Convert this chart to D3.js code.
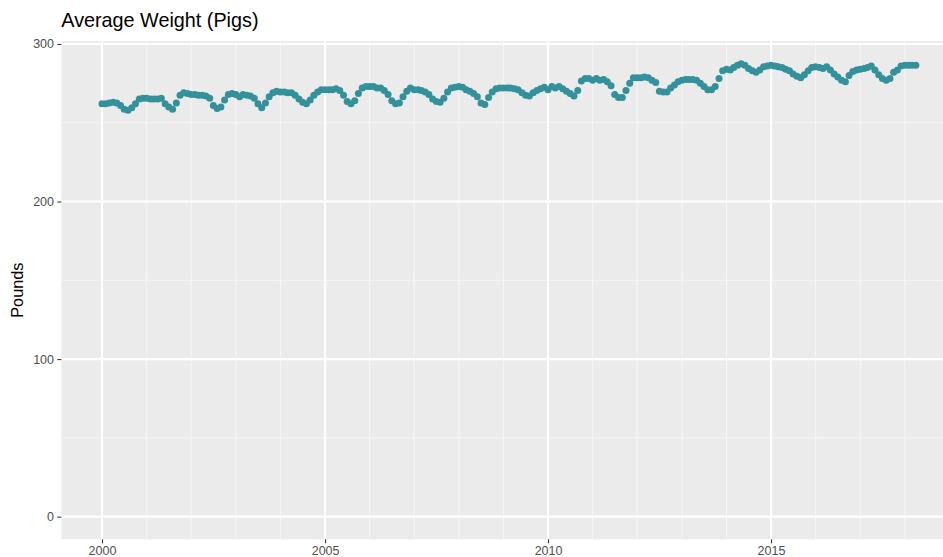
<!DOCTYPE html>
<html>
<head>
<meta charset="utf-8">
<script src="https://cdn.jsdelivr.net/npm/d3@7"></script>
<style>
  body { margin: 0; background: #fff; }
  svg { display: block; font-family: "Liberation Sans", Arial, sans-serif; }
</style>
</head>
<body>
<div id="chart"></div>
<script>
// monthly average live weight, starting Jan 2000
const startMonth = new Date(2000, 0, 1);
const weights = [
  262, 262, 262.5, 263, 262.5, 261, 258.5, 258, 259.5, 262, 265, 265.5,        // 2000
  265.5, 265, 265, 265, 265.5, 262, 260, 258.5, 262.5, 267.5, 269, 268.5,      // 2001
  268, 268, 267.5, 267.5, 267, 265.5, 261, 259, 260, 264.5, 268, 268.5,        // 2002
  268, 266.5, 268, 267.5, 267, 265.5, 262, 259.5, 262.5, 266.5, 269, 270,      // 2003
  269.5, 269.5, 269, 269, 267.5, 265, 263, 262, 264.5, 267.5, 269.5, 271,      // 2004
  271, 271, 271, 271.5, 270.5, 267.5, 263.5, 262, 264, 268.5, 272, 273,        // 2005
  273, 273, 272, 272, 270.5, 268, 264, 262, 262.5, 266.5, 270, 272,            // 2006
  271, 271, 270.5, 269.5, 268, 265, 263.5, 263, 265.5, 269.5, 272, 272.5,      // 2007
  273, 272.5, 271, 270, 268.5, 266.5, 262.5, 261.5, 266, 269.5, 271.5, 272,    // 2008
  272, 272, 272, 271.5, 271, 269, 267.5, 267, 269, 270.5, 271.5, 272.5,        // 2009
  271, 273, 272, 273, 271.5, 270, 268.5, 267, 270.5, 276.5, 278, 278,          // 2010
  277, 278, 277, 277.5, 276, 273.5, 268, 266, 266, 270.5, 275, 278.5,          // 2011
  278.5, 278.5, 279, 278.5, 277, 275.5, 270, 269.5, 269.5, 272, 274, 276,      // 2012
  277, 277.5, 277.5, 277.5, 277, 275, 273, 271, 271, 273, 278, 283,            // 2013
  284, 283.5, 285, 286.5, 287.5, 286.5, 284.5, 283, 282, 283.5, 285.5, 286,    // 2014
  286.5, 286, 285.5, 285, 284, 283, 281, 279.5, 278.5, 280.5, 283, 285,        // 2015
  285.5, 285, 284.5, 285.5, 283.5, 281, 279, 277, 276, 280, 282.5, 283.5,      // 2016
  284, 284.5, 285, 286, 283.5, 280.5, 278, 277, 278, 282, 283.5, 286,          // 2017
  286.5, 286.5, 286.5, 286.5                                                   // 2018
];
const xTickYears = [2000, 2005, 2010, 2015];
const yTicks = [0, 100, 200, 300];
const yMinorTicks = [50, 150, 250];

const W = 943, H = 557;
const panel = { left: 61.3, top: 41, bottom: 539.3, pxPerYear: 44.6 };

const data = weights.map((w, i) => ({ date: d3.timeMonth.offset(startMonth, i), value: w }));

const svg = d3.select("#chart").append("svg").attr("width", W).attr("height", H);

// x: date scale with ggplot-like 5% expansion
const ext = d3.extent(data, d => d.date);
const spanMs = ext[1] - ext[0];
const xDomain = [new Date(+ext[0] - spanMs * 0.05), new Date(+ext[1] + spanMs * 0.05)];
const yearMs = 365.25 * 24 * 3600 * 1000;
const panelRight = panel.left + (xDomain[1] - xDomain[0]) / yearMs * panel.pxPerYear;
const x = d3.scaleTime().domain(xDomain).range([panel.left, panelRight]);

// y: include 0, 5% expansion
const yMax = d3.max(weights);
const y = d3.scaleLinear().domain([-0.05 * yMax, yMax * 1.05]).range([panel.bottom, panel.top]);

svg.append("rect")
  .attr("x", panel.left).attr("y", panel.top)
  .attr("width", panelRight - panel.left).attr("height", panel.bottom - panel.top)
  .attr("fill", "#EBEBEB");

const grid = svg.append("g");
const minorYears = d3.range(1999, 2020).map(yr => new Date(yr, 0, 1))
  .filter(d => d >= xDomain[0] && d <= xDomain[1] && xTickYears.indexOf(d.getFullYear()) < 0);

grid.selectAll(".ymin").data(yMinorTicks).join("line")
  .attr("x1", panel.left).attr("x2", panelRight)
  .attr("y1", d => y(d)).attr("y2", d => y(d))
  .attr("stroke", "#F6F6F6").attr("stroke-width", 1);
grid.selectAll(".xmin").data(minorYears).join("line")
  .attr("x1", d => x(d)).attr("x2", d => x(d))
  .attr("y1", panel.top).attr("y2", panel.bottom)
  .attr("stroke", "#F6F6F6").attr("stroke-width", 1);
grid.selectAll(".ymaj").data(yTicks).join("line")
  .attr("x1", panel.left).attr("x2", panelRight)
  .attr("y1", d => y(d)).attr("y2", d => y(d))
  .attr("stroke", "#fff").attr("stroke-width", 2.1);
grid.selectAll(".xmaj").data(xTickYears).join("line")
  .attr("x1", d => x(new Date(d, 0, 1))).attr("x2", d => x(new Date(d, 0, 1)))
  .attr("y1", panel.top).attr("y2", panel.bottom)
  .attr("stroke", "#fff").attr("stroke-width", 2.1);

// points
svg.append("g").selectAll("circle").data(data).join("circle")
  .attr("cx", d => x(d.date))
  .attr("cy", d => y(d.value))
  .attr("r", 3.5)
  .attr("fill", "#33919B");

// axes
const yAxis = d3.axisLeft(y).tickValues(yTicks).tickSize(4).tickPadding(3.3);
const yg = svg.append("g").attr("transform", `translate(${panel.left},0)`).call(yAxis);
const xAxis = d3.axisBottom(x).tickValues(xTickYears.map(yr => new Date(yr, 0, 1)))
  .tickFormat(d3.timeFormat("%Y")).tickSize(4).tickPadding(2.5);
const xg = svg.append("g").attr("transform", `translate(0,${panel.bottom})`).call(xAxis);

[yg, xg].forEach(g => {
  g.select(".domain").remove();
  g.selectAll(".tick line").attr("stroke", "#333333").attr("stroke-width", 1.05);
  g.selectAll(".tick text").attr("fill", "#4D4D4D")
    .style("font-size", "12.5px").style("font-family", "Liberation Sans, Arial, sans-serif");
});

svg.append("text")
  .attr("x", panel.left).attr("y", 27)
  .style("font-size", "19.8px").attr("fill", "#000")
  .text("Average Weight (Pigs)");

svg.append("text")
  .attr("transform", `translate(23,${(panel.top + panel.bottom) / 2}) rotate(-90)`)
  .attr("text-anchor", "middle")
  .style("font-size", "16.3px").attr("fill", "#000")
  .text("Pounds");
</script>
</body>
</html>
